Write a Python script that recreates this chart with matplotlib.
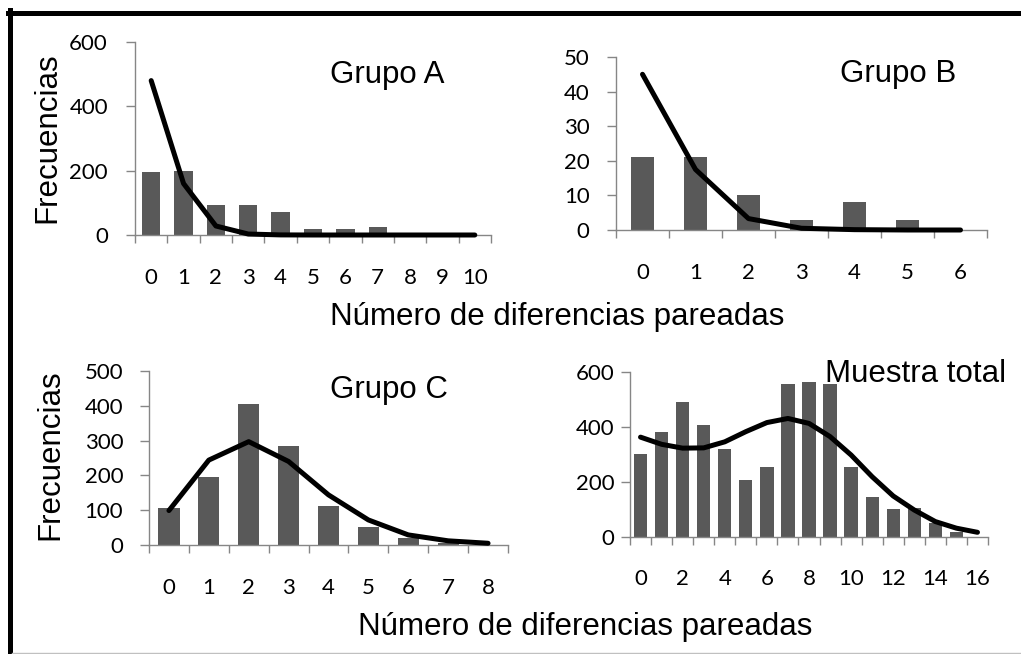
import numpy as np
import matplotlib.pyplot as plt
from matplotlib.lines import Line2D
from matplotlib.ticker import FixedLocator

W, H = 1021, 654

# frecuencias observadas (barras) y esperadas (linea) por numero de diferencias
grupo_a_obs = [197, 200, 94, 92, 71, 19, 19, 25, 1, 1, 0]
grupo_a_esp = [480, 160, 28, 3, 0.3, 0, 0, 0, 0, 0, 0]
grupo_b_obs = [21, 21, 10, 3, 8, 3, 0]
grupo_b_esp = [45, 17.5, 3.3, 0.5, 0.1, 0, 0]
grupo_c_obs = [105, 195, 405, 285, 112, 52, 20, 6, 1]
grupo_c_esp = [99, 244, 297, 240, 144, 72, 29, 12, 5]
total_obs = [302, 380, 490, 405, 320, 207, 253, 556, 562, 556, 252, 145, 100, 103, 50, 18, 0]
total_esp = [362, 336, 322, 323, 345, 382, 415, 430, 412, 364, 297, 218, 148, 97, 55, 31, 16]

titulos = ['Grupo A', 'Grupo B', 'Grupo C', 'Muestra total']
xlabel = 'Número de diferencias pareadas'
ylabel = 'Frecuencias'

BAR = '#595959'
AXIS = '#868686'
TICKFONT = 'Lato'
TEXTFONT = 'Liberation Sans'


def px(x, y):
    # pixel coords (origin top-left) -> figure fraction
    return x / W, 1 - y / H


def rect(left, top, right, bottom):
    return [left / W, 1 - bottom / H, (right - left) / W, (bottom - top) / H]


fig = plt.figure(figsize=(W / 100, H / 100), dpi=100)

# (caja en px, obs, esp, ymax, paso y, paso etiquetas x, ancho barra, pad y, titulo en px)
paneles = [
    (rect(135, 42, 491, 235), grupo_a_obs, grupo_a_esp, 600, 200, 1, 0.57, 13, (330, 83)),
    (rect(616, 57, 987, 230), grupo_b_obs, grupo_b_esp, 50, 10, 1, 0.43, 12.5, (840, 82)),
    (rect(149, 371, 508, 545), grupo_c_obs, grupo_c_esp, 500, 100, 1, 0.53, 12, (330, 398)),
    (rect(630, 371.7, 988, 536.7), total_obs, total_esp, 600, 200, 2, 0.63, 4.5, (825, 382)),
]

for i, (box, obs, esp, ymax, ystep, xstep, bw, ypad, tpos) in enumerate(paneles):
    ax = fig.add_axes(box)
    n = len(obs)
    x = np.arange(n)
    ax.bar(x, obs, width=bw, color=BAR, zorder=2)
    ax.plot(x, esp, color='black', lw=3.6, solid_capstyle='round', zorder=3, clip_on=False)
    ax.set_xlim(-0.5, n - 0.5)
    ax.set_ylim(0, ymax)

    for s in ['top', 'right']:
        ax.spines[s].set_visible(False)
    for s in ['left', 'bottom']:
        ax.spines[s].set_color(AXIS)
        ax.spines[s].set_linewidth(1)

    ax.xaxis.set_major_locator(FixedLocator(x[::xstep]))
    ax.set_xticklabels([str(v) for v in x[::xstep]])
    ax.xaxis.set_minor_locator(FixedLocator(np.arange(n + 1) - 0.5))
    ax.tick_params(axis='x', which='major', length=0, pad=23.5)
    ax.tick_params(axis='x', which='minor', length=6, width=1, color=AXIS)
    ax.set_yticks(np.arange(0, ymax + 1, ystep))
    ax.tick_params(axis='y', length=6.5, width=1, color=AXIS, pad=ypad)
    for lab in ax.get_xticklabels() + ax.get_yticklabels():
        lab.set_fontfamily(TICKFONT)
        lab.set_fontsize(16)

    tx, ty = px(*tpos)
    fig.text(tx, ty, titulos[i], ha='left', va='baseline', fontsize=22.5, family=TEXTFONT)

# etiquetas comunes
fig.text(*px(330, 325), xlabel, ha='left', va='baseline', fontsize=22.5, family=TEXTFONT)
fig.text(*px(358, 635), xlabel, ha='left', va='baseline', fontsize=22.5, family=TEXTFONT)
fig.text(*px(47, 137.5), ylabel, rotation=90, ha='center', va='center', fontsize=22.5, family=TEXTFONT)
fig.text(*px(50, 455), ylabel, rotation=90, ha='center', va='center', fontsize=22.5, family=TEXTFONT)

# marco
fig.add_artist(Line2D([10 / W, 10 / W], [1 - 10 / H, 1 - 653 / H], color='black', lw=3.6))
fig.add_artist(Line2D([7.5 / W, 1.0], [1 - 12.5 / H, 1 - 12.5 / H], color='black', lw=3.6))
fig.add_artist(Line2D([12 / W, 1.0], [1 - 652.5 / H, 1 - 652.5 / H], color='#c0c0c0', lw=1))

fig.savefig('out.png', dpi=100)
